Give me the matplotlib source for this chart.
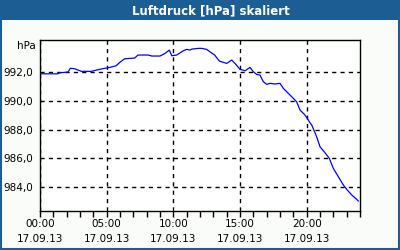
import matplotlib
matplotlib.use("Agg")
import matplotlib.pyplot as plt
from matplotlib.patches import Rectangle
from matplotlib.ticker import MultipleLocator, FixedLocator

title = "Luftdruck [hPa] skaliert"
unit = "hPa"
hours = [0, 1.35, 1.48, 2.1, 2.27, 2.6, 3.1, 3.85, 4.35, 4.85, 5.23, 5.72, 5.98,
         6.35, 7.1, 7.35, 8.12, 8.38, 9.0, 9.375, 9.7, 9.88, 10.25, 10.75, 11.0,
         11.25, 11.38, 11.87, 12.13, 12.5, 12.75, 13.1, 13.45, 14.0, 14.38, 14.62,
         15.0, 15.38, 15.75, 16.0, 16.25, 16.5, 16.75, 17.0, 17.25, 17.63, 18.0,
         18.25, 18.5, 18.88, 19.25, 19.5, 19.88, 20.2, 20.38, 20.75, 21.0, 21.38,
         21.7, 22.0, 22.38, 22.75, 23.0, 23.38, 23.75, 23.87]
pressure = [991.86, 991.86, 991.93, 991.98, 992.24, 992.21, 992.03, 992.03, 992.14,
            992.24, 992.30, 992.42, 992.65, 992.90, 992.95, 993.16, 993.16, 993.09,
            993.09, 993.27, 993.50, 993.11, 993.16, 993.45, 993.55, 993.50, 993.57,
            993.62, 993.62, 993.55, 993.38, 993.16, 992.74, 992.58, 992.81, 992.58,
            992.17, 992.07, 992.30, 992.00, 991.82, 991.77, 991.31, 991.13, 991.20,
            991.15, 991.20, 990.85, 990.62, 990.27, 989.92, 989.35, 989.00, 988.54,
            988.31, 987.50, 986.81, 986.39, 986.00, 985.31, 984.73, 984.16, 983.86,
            983.47, 983.17, 983.05]
x_ticks = [0, 5, 10, 15, 20]
x_labels = ["00:00\n17.09.13", "05:00\n17.09.13", "10:00\n17.09.13",
            "15:00\n17.09.13", "20:00\n17.09.13"]
y_ticks = [984, 986, 988, 990, 992]
y_labels = ["984,0", "986,0", "988,0", "990,0", "992,0"]

plt.rcParams['font.family'] = ['DejaVu Sans']
fig = plt.figure(figsize=(4, 2.5), dpi=100)
fig.patch.set_facecolor('#fafcfa')
blue = '#1c5e94'

ax = fig.add_axes([40/400, 1 - 211/250, 320/400, 171/250])
ax.set_facecolor('white')
ax.plot(hours, pressure, color='#0000ff', linewidth=0.9)
ax.set_xlim(0, 24)
ax.set_ylim(982.36, 994.2)
ax.xaxis.set_major_locator(FixedLocator(x_ticks))
ax.set_xticklabels(x_labels)
ax.xaxis.set_minor_locator(MultipleLocator(1))
ax.set_yticks(y_ticks)
ax.set_yticklabels(y_labels)
ax.tick_params(axis='x', which='both', direction='out', length=4, width=1, pad=2,
               labelsize=7.5, color='black')
ax.tick_params(axis='y', which='both', length=0, pad=5, labelsize=7.5)
for lbl in ax.get_xticklabels():
    lbl.set_linespacing(1.6)
ax.grid(True, which='major', color='black', linestyle=(0, (3, 3)), linewidth=1)
for s in ax.spines.values():
    s.set_linewidth(1)
    s.set_color('black')
fig.text(36/400, 1 - 46/250, unit, fontsize=7.5, ha='right', va='center')

# border and title bar drawn on top
fig.add_artist(Rectangle((1/400, 1/250), 1 - 2.5/400, 1 - 2.5/250, transform=fig.transFigure,
                         fill=False, edgecolor=blue, linewidth=1.5, zorder=5))
fig.add_artist(Rectangle((0, 1 - 20/250), 1, 20/250, transform=fig.transFigure,
                         facecolor=blue, edgecolor='none', zorder=6))
fig.text(211/400, 1 - 10.5/250, title, color='white', fontsize=8.5, fontweight='bold',
         ha='center', va='center', zorder=7)

fig.savefig('out.png', dpi=100, facecolor=fig.get_facecolor())
